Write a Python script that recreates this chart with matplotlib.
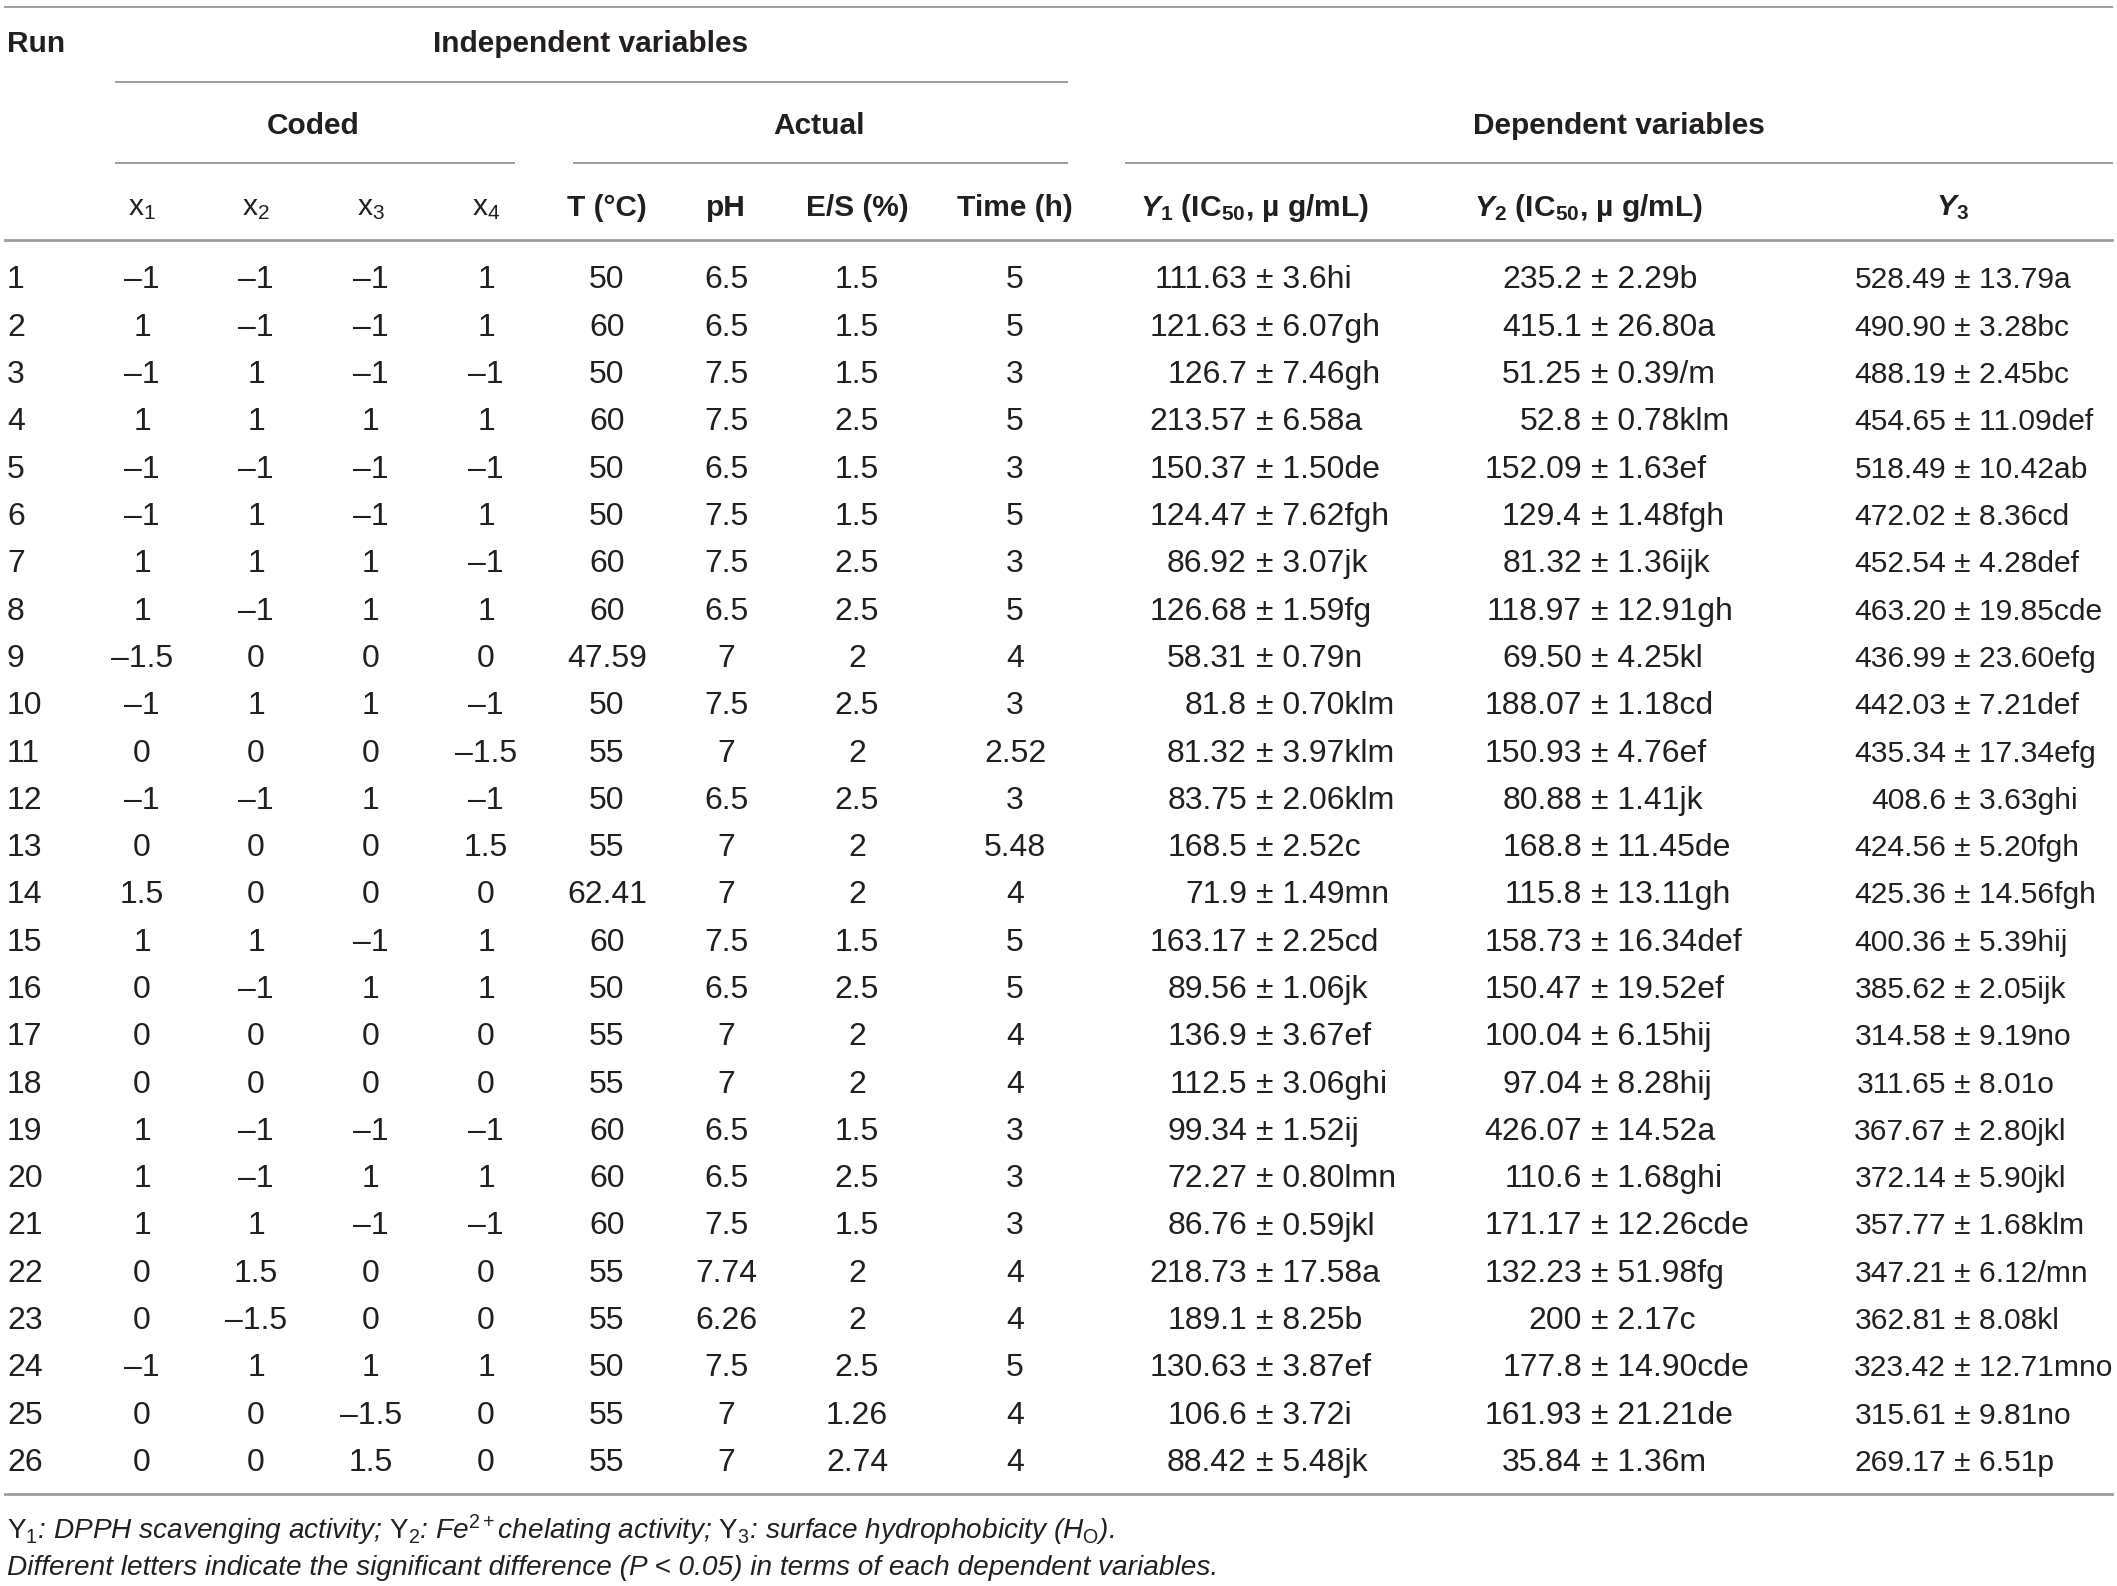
import matplotlib
matplotlib.use("Agg")
import matplotlib.pyplot as plt

plt.rcParams['font.family'] = ['Liberation Sans', 'DejaVu Sans']
plt.rcParams['mathtext.fontset'] = 'custom'
plt.rcParams['mathtext.rm'] = 'Liberation Sans'
plt.rcParams['mathtext.it'] = 'Liberation Sans:italic'
plt.rcParams['mathtext.bf'] = 'Liberation Sans:bold'
plt.rcParams['mathtext.bfit'] = 'Liberation Sans:italic:bold'

# table data
runs = list(range(1, 27))
x1 = [-1, 1, -1, 1, -1, -1, 1, 1, -1.5, -1, 0, -1, 0, 1.5, 1, 0, 0, 0, 1, 1, 1, 0, 0, -1, 0, 0]
x2 = [-1, -1, 1, 1, -1, 1, 1, -1, 0, 1, 0, -1, 0, 0, 1, -1, 0, 0, -1, -1, 1, 1.5, -1.5, 1, 0, 0]
x3 = [-1, -1, -1, 1, -1, -1, 1, 1, 0, 1, 0, 1, 0, 0, -1, 1, 0, 0, -1, 1, -1, 0, 0, 1, -1.5, 1.5]
x4 = [1, 1, -1, 1, -1, 1, -1, 1, 0, -1, -1.5, -1, 1.5, 0, 1, 1, 0, 0, -1, 1, -1, 0, 0, 1, 0, 0]
temp = [50, 60, 50, 60, 50, 50, 60, 60, 47.59, 50, 55, 50, 55, 62.41, 60, 50, 55, 55, 60, 60, 60, 55, 55, 50, 55, 55]
ph = [6.5, 6.5, 7.5, 7.5, 6.5, 7.5, 7.5, 6.5, 7, 7.5, 7, 6.5, 7, 7, 7.5, 6.5, 7, 7, 6.5, 6.5, 7.5, 7.74, 6.26, 7.5, 7, 7]
es = [1.5, 1.5, 1.5, 2.5, 1.5, 1.5, 2.5, 2.5, 2, 2.5, 2, 2.5, 2, 2, 1.5, 2.5, 2, 2, 1.5, 2.5, 1.5, 2, 2, 2.5, 1.26, 2.74]
time_h = [5, 5, 3, 5, 3, 5, 3, 5, 4, 3, 2.52, 3, 5.48, 4, 5, 5, 4, 4, 3, 3, 3, 4, 4, 5, 4, 4]

y1 = ["111.63 ± 3.6hi", "121.63 ± 6.07gh", "126.7 ± 7.46gh", "213.57 ± 6.58a", "150.37 ± 1.50de",
      "124.47 ± 7.62fgh", "86.92 ± 3.07jk", "126.68 ± 1.59fg", "58.31 ± 0.79n", "81.8 ± 0.70klm",
      "81.32 ± 3.97klm", "83.75 ± 2.06klm", "168.5 ± 2.52c", "71.9 ± 1.49mn", "163.17 ± 2.25cd",
      "89.56 ± 1.06jk", "136.9 ± 3.67ef", "112.5 ± 3.06ghi", "99.34 ± 1.52ij", "72.27 ± 0.80lmn",
      "86.76 ± 0.59jkl", "218.73 ± 17.58a", "189.1 ± 8.25b", "130.63 ± 3.87ef", "106.6 ± 3.72i",
      "88.42 ± 5.48jk"]
y2 = ["235.2 ± 2.29b", "415.1 ± 26.80a", "51.25 ± 0.39/m", "52.8 ± 0.78klm", "152.09 ± 1.63ef",
      "129.4 ± 1.48fgh", "81.32 ± 1.36ijk", "118.97 ± 12.91gh", "69.50 ± 4.25kl", "188.07 ± 1.18cd",
      "150.93 ± 4.76ef", "80.88 ± 1.41jk", "168.8 ± 11.45de", "115.8 ± 13.11gh", "158.73 ± 16.34def",
      "150.47 ± 19.52ef", "100.04 ± 6.15hij", "97.04 ± 8.28hij", "426.07 ± 14.52a", "110.6 ± 1.68ghi",
      "171.17 ± 12.26cde", "132.23 ± 51.98fg", "200 ± 2.17c", "177.8 ± 14.90cde", "161.93 ± 21.21de",
      "35.84 ± 1.36m"]
y3 = ["528.49 ± 13.79a", "490.90 ± 3.28bc", "488.19 ± 2.45bc", "454.65 ± 11.09def", "518.49 ± 10.42ab",
      "472.02 ± 8.36cd", "452.54 ± 4.28def", "463.20 ± 19.85cde", "436.99 ± 23.60efg", "442.03 ± 7.21def",
      "435.34 ± 17.34efg", "408.6 ± 3.63ghi", "424.56 ± 5.20fgh", "425.36 ± 14.56fgh", "400.36 ± 5.39hij",
      "385.62 ± 2.05ijk", "314.58 ± 9.19no", "311.65 ± 8.01o", "367.67 ± 2.80jkl", "372.14 ± 5.90jkl",
      "357.77 ± 1.68klm", "347.21 ± 6.12/mn", "362.81 ± 8.08kl", "323.42 ± 12.71mno", "315.61 ± 9.81no",
      "269.17 ± 6.51p"]

coded_cols = [x1, x2, x3, x4]
actual_cols = [temp, ph, es, time_h]
coded_heads = [r"x$_{\mathregular{1}}$", r"x$_{\mathregular{2}}$", r"x$_{\mathregular{3}}$", r"x$_{\mathregular{4}}$"]
actual_heads = ["T (°C)", "pH", "E/S (%)", "Time (h)"]
dep_heads = [r"$\mathbfit{Y}_{\mathregular{1}}$ (IC$_{\mathregular{50}}$, µ g/mL)",
             r"$\mathbfit{Y}_{\mathregular{2}}$ (IC$_{\mathregular{50}}$, µ g/mL)",
             r"$\mathbfit{Y}_{\mathregular{3}}$"]
notes = [r"$\mathrm{Y}_1$: DPPH scavenging activity; $\mathrm{Y}_2$: Fe$^{2+}$chelating activity; "
         r"$\mathrm{Y}_3$: surface hydrophobicity (H$_\mathrm{O}$).",
         "Different letters indicate the significant difference (P < 0.05) in terms of each dependent variables."]

def fmt(v):
    return f"{v:g}".replace("-", "\u2013")

# layout (pixels)
W, H = 2117, 1586
ink = '#231f20'
rule = '#9d9d9d'
fs = 23
hfs = 21.5
nfs = 20.2
coded_x = [142, 256, 371, 486]
actual_x = [607, 726, 857, 1015]
dep_head_x = [1254, 1588, 1953]
pm_x = [1265, 1600, 1963]
dep_fs = [23, 23, 21.6]
row0, step = 277, 47.3
off = 11.5  # half cap height -> baseline

fig = plt.figure(figsize=(W / 100, H / 100), dpi=100)
ax = fig.add_axes([0, 0, 1, 1])
ax.set_xlim(0, W)
ax.set_ylim(H, 0)
ax.axis('off')

# rules
ax.plot([5, 2112], [7, 7], color=rule, lw=1.4)
ax.plot([116, 1067], [82, 82], color=rule, lw=1.4)
ax.plot([116, 514], [163, 163], color=rule, lw=1.4)
ax.plot([574, 1067], [163, 163], color=rule, lw=1.4)
ax.plot([1126, 2112], [163, 163], color=rule, lw=1.4)
ax.plot([5, 2112], [240, 240], color=rule, lw=2.0)
ax.plot([5, 2112], [1494, 1494], color=rule, lw=2.0)

# header
ax.text(7, 40 + off, "Run", fontsize=hfs, weight='bold', color=ink, ha='left', va='baseline')
ax.text(591, 40 + off, "Independent variables", fontsize=hfs, weight='bold', color=ink, ha='center', va='baseline')
ax.text(313, 123 + off, "Coded", fontsize=hfs, weight='bold', color=ink, ha='center', va='baseline')
ax.text(819, 123 + off, "Actual", fontsize=hfs, weight='bold', color=ink, ha='center', va='baseline')
ax.text(1619, 123 + off, "Dependent variables", fontsize=hfs, weight='bold', color=ink, ha='center', va='baseline')
for x, t in zip(coded_x, coded_heads):
    ax.text(x, 204 + off, t, fontsize=hfs, color=ink, ha='center', va='baseline')
for x, t in zip(actual_x, actual_heads):
    ax.text(x, 204 + off, t, fontsize=hfs, weight='bold', color=ink, ha='center', va='baseline')
for x, t in zip(dep_head_x, dep_heads):
    ax.text(x, 204 + off, t, fontsize=hfs, weight='bold', color=ink, ha='center', va='baseline')

# body
for i, r in enumerate(runs):
    y = row0 + i * step + off
    ax.text(7, y, str(r), fontsize=fs, color=ink, ha='left', va='baseline')
    for x, col in zip(coded_x, coded_cols):
        ax.text(x, y, fmt(col[i]), fontsize=fs, color=ink, ha='center', va='baseline')
    for x, col in zip(actual_x, actual_cols):
        ax.text(x, y, fmt(col[i]), fontsize=fs, color=ink, ha='center', va='baseline')
    # mean right of the +/- sign, sd and letters left of it
    for x, col, f in zip(pm_x, [y1, y2, y3], dep_fs):
        mean, rest = col[i].split(" ± ")
        k = f / 23
        ax.text(x - 18 * k, y, mean, fontsize=f, color=ink, ha='right', va='baseline')
        ax.text(x - 9.3 * k, y, "± " + rest, fontsize=f, color=ink, ha='left', va='baseline')

# footnotes
ax.text(7, 1530 + 9, notes[0], fontsize=nfs, style='italic', color=ink, ha='left', va='baseline')
ax.text(7, 1566 + 9, notes[1], fontsize=nfs, style='italic', color=ink, ha='left', va='baseline')

fig.savefig("out.png", dpi=100)
